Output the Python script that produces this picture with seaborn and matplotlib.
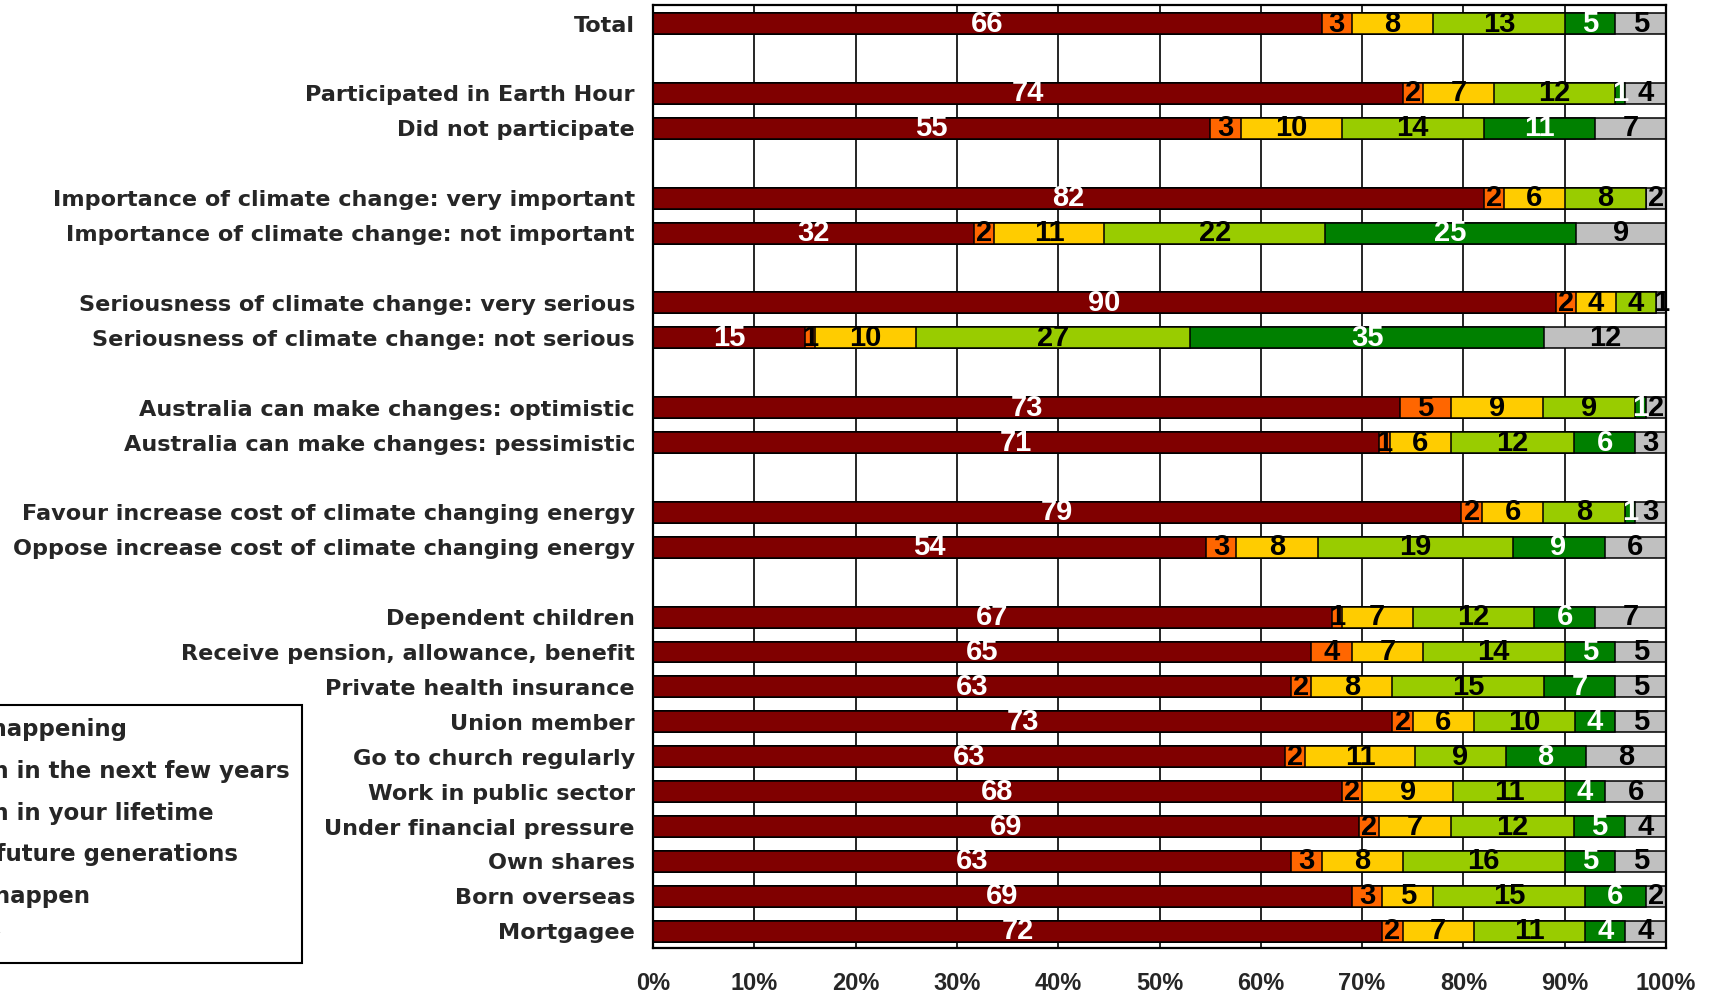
import matplotlib
matplotlib.use("Agg")
import matplotlib.pyplot as plt
from matplotlib.patches import Patch
import seaborn as sns
import pandas as pd
import numpy as np

# ---------------- data ----------------
categories = [
    "Total",
    "Participated in Earth Hour", "Did not participate",
    "Importance of climate change: very important", "Importance of climate change: not important",
    "Seriousness of climate change: very serious", "Seriousness of climate change: not serious",
    "Australia can make changes: optimistic", "Australia can make changes: pessimistic",
    "Favour increase cost of climate changing energy", "Oppose increase cost of climate changing energy",
    "Dependent children", "Receive pension, allowance, benefit", "Private health insurance",
    "Union member", "Go to church regularly", "Work in public sector", "Under financial pressure",
    "Own shares", "Born overseas", "Mortgagee",
]
row_slots = [0, 2, 3, 5, 6, 8, 9, 11, 12, 14, 15, 17, 18, 19, 20, 21, 22, 23, 24, 25, 26]

already_happening = [66, 74, 55, 82, 32, 90, 15, 73, 71, 79, 54, 67, 65, 63, 73, 63, 68, 69, 63, 69, 72]
next_few_years    = [3, 2, 3, 2, 2, 2, 1, 5, 1, 2, 3, 1, 4, 2, 2, 2, 2, 2, 3, 3, 2]
your_lifetime     = [8, 7, 10, 6, 11, 4, 10, 9, 6, 6, 8, 7, 7, 8, 6, 11, 9, 7, 8, 5, 7]
future_gens       = [13, 12, 14, 8, 22, 4, 27, 9, 12, 8, 19, 12, 14, 15, 10, 9, 11, 12, 16, 15, 11]
never_happen      = [5, 1, 11, 0, 25, 0, 35, 1, 6, 1, 9, 6, 5, 7, 4, 8, 4, 5, 5, 6, 4]
dont_know         = [5, 4, 7, 2, 9, 1, 12, 2, 3, 3, 6, 7, 5, 5, 5, 8, 6, 4, 5, 2, 4]

series_names = [
    "Is already happening",
    "Will happen in the next few years",
    "Will happen in your lifetime",
    "Will affect future generations",
    "Will never happen",
    "Don't know",
]
series_values = [already_happening, next_few_years, your_lifetime,
                 future_gens, never_happen, dont_know]
series_colors = ["#800000", "#FF6600", "#FFCC00", "#99CC00", "#008000", "#C0C0C0"]
label_colors = ["white", "black", "black", "black", "white", "black"]
x_ticks = [0, 10, 20, 30, 40, 50, 60, 70, 80, 90, 100]
x_ticklabels = [f"{t}%" for t in x_ticks]

# ---------------- build table (100% stacked) ----------------
vals = np.array(series_values, dtype=float)          # shape (6, n)
totals = vals.sum(axis=0)
pct = vals / totals * 100
cum_end = np.cumsum(pct, axis=0)
cum_start = cum_end - pct

rows = []
for s, name in enumerate(series_names):
    for i, cat in enumerate(categories):
        rows.append(dict(series=name, category=cat, pos=row_slots[i],
                         value=series_values[s][i], start=cum_start[s, i],
                         end=cum_end[s, i], mid=(cum_start[s, i] + cum_end[s, i]) / 2))
df = pd.DataFrame(rows)

# ---------------- figure ----------------
sns.set_style("white")
plt.rcParams["font.family"] = ["DejaVu Sans"]

fig = plt.figure(figsize=(17.22, 9.96), dpi=100)
ax = fig.add_axes([653 / 1722, 1 - 948 / 996, (1666 - 653) / 1722, (948 - 5.5) / 996])

# stacked bars: draw cumulative ends from the last series to the first
for s in reversed(range(len(series_names))):
    sub = df[df["series"] == series_names[s]]
    sns.barplot(data=sub, x="end", y="pos", orient="h", native_scale=True,
                color=series_colors[s], edgecolor="black", linewidth=1.1,
                width=0.6, errorbar=None, saturation=1, ax=ax, zorder=2)

# value labels
for _, r in df.iterrows():
    if r["value"] > 0:
        s = series_names.index(r["series"])
        ax.text(r["mid"], r["pos"], f"{int(r['value'])}", ha="center", va="center",
                color=label_colors[s], fontsize=21, fontweight="bold",
                family="Liberation Sans", zorder=5)

ax.set_xlim(0, 100)
ax.set_ylim(26.48, -0.52)
ax.set_xticks(x_ticks)
ax.set_xticklabels(x_ticklabels, fontsize=17, fontweight="bold", family="Liberation Sans")
ax.set_yticks(row_slots)
ax.set_yticklabels(categories, fontsize=16.1, fontweight="bold")
ax.set_xlabel("")
ax.set_ylabel("")
ax.tick_params(axis="y", length=0, pad=13)
ax.tick_params(axis="x", direction="out", length=5, width=1.4, color="black", pad=12)
ax.xaxis.grid(True, color="black", linewidth=1.2)
ax.yaxis.grid(False)
ax.set_axisbelow(True)
for sp in ax.spines.values():
    sp.set_visible(True)
    sp.set_color("black")
    sp.set_linewidth(1.6)

# legend (partly outside the figure, as in the original)
handles = [Patch(facecolor=c, edgecolor="black", linewidth=1) for c in series_colors]
leg = fig.legend(handles, series_names, loc="upper right",
                 bbox_to_anchor=(302 / 1722, 1 - 705 / 996), bbox_transform=fig.transFigure,
                 frameon=True, fancybox=False, edgecolor="black", borderaxespad=0,
                 borderpad=0.55, labelspacing=0.82, handlelength=1.0, handleheight=1.0,
                 prop=dict(size=16.5, weight="bold"))
leg.get_frame().set_linewidth(1.5)
leg.get_frame().set_alpha(1)

fig.savefig("out.png", dpi=100)
